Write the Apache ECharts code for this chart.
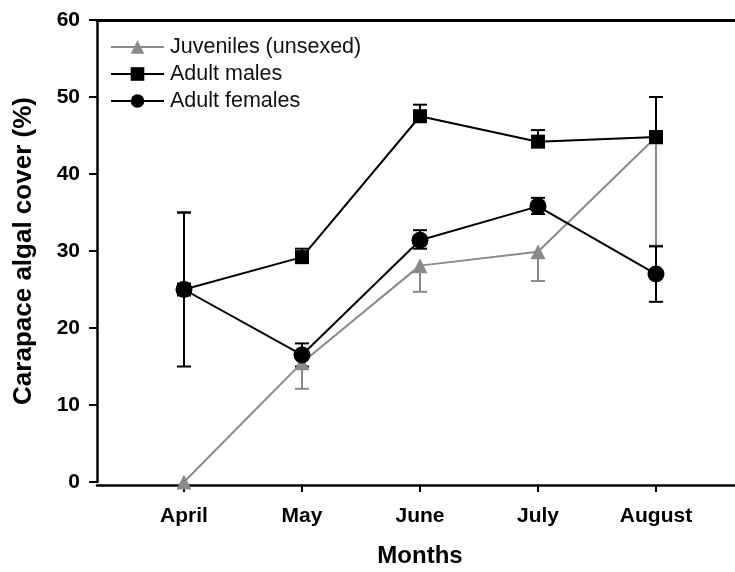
<!DOCTYPE html>
<html>
<head>
<meta charset="utf-8">
<script src="https://cdn.jsdelivr.net/npm/echarts@6/dist/echarts.min.js"></script>
<style>
  html, body { margin: 0; padding: 0; background: #fff; }
  #main { width: 735px; height: 572px; }
</style>
</head>
<body>
<div id="main"></div>
<script>
// months on the x axis (index 0..4)
var months = ['April', 'May', 'June', 'July', 'August'];
var monthIdx = [0, 1, 2, 3, 4];
var yTicks = [0, 10, 20, 30, 40, 50, 60];

// means
var juveniles = [0, 15.5, 28.1, 29.9, 44.8];
var males = [25, 29.2, 47.5, 44.2, 44.8];
var females = [25, 16.5, 31.4, 35.8, 27.0];

// error bar ends (one sided where only one side is drawn)
var juvLow = [0, 12.1, 24.7, 26.1, 30.7];
var juvHigh = [0, 15.5, 28.1, 29.9, 44.8];
var maleLow = [25, 29.2, 47.5, 44.2, 44.8];
var maleHigh = [35, 30.3, 49.0, 45.7, 50.0];
var femLow = [15, 15.0, 30.3, 34.8, 23.4];
var femHigh = [35, 18.0, 32.7, 36.9, 30.6];

var GRAY = '#8a8a8a';
var font = 'Liberation Sans, Arial, sans-serif';

function pts(vals) {
    var out = [];
    for (var i = 0; i < vals.length; i++) out.push([monthIdx[i], vals[i]]);
    return out;
}
function errData(mean, lo, hi) {
    var out = [];
    for (var i = 0; i < mean.length; i++) out.push([monthIdx[i], lo[i], hi[i], mean[i]]);
    return out;
}
function errRender(color) {
    return function(params, api) {
        var x = api.value(0), lo = api.value(1), hi = api.value(2), m = api.value(3);
        var pLo = api.coord([x, lo]);
        var pHi = api.coord([x, hi]);
        var half = 7;
        var st = { stroke: color, lineWidth: 2 };
        var kids = [{
            type: 'line',
            shape: { x1: pLo[0], y1: pLo[1], x2: pHi[0], y2: pHi[1] },
            style: st
        }];
        if (hi > m) kids.push({ type: 'line', shape: { x1: pHi[0] - half, y1: pHi[1], x2: pHi[0] + half, y2: pHi[1] }, style: st });
        if (lo < m) kids.push({ type: 'line', shape: { x1: pLo[0] - half, y1: pLo[1], x2: pLo[0] + half, y2: pLo[1] }, style: st });
        return { type: 'group', children: kids };
    };
}

var chart = echarts.init(document.getElementById('main'));
var option = {
    animation: false,
    backgroundColor: '#fff',
    grid: {
        left: 97,
        top: 20,
        right: -39,
        bottom: 90,
        outerBoundsMode: 'none'
    },
    legend: {
        orient: 'vertical',
        left: 105,
        top: 31,
        itemWidth: 53,
        itemHeight: 17,
        itemGap: 5,
        data: ['Juveniles (unsexed)', 'Adult males', 'Adult females'],
        textStyle: { fontFamily: font, fontSize: 21.5, lineHeight: 22, color: '#111', padding: [0, 0, 0, 1] }
    },
    graphic: [{
        type: 'text',
        x: 420,
        y: 556,
        style: { text: 'Months', align: 'center', verticalAlign: 'middle', fontFamily: font, fontSize: 24, fontWeight: 'bold', fill: '#000' }
    }],
    xAxis: [{
        type: 'value',
        min: -0.737,
        max: 5,
        offset: 3,
        axisLine: { onZero: false, lineStyle: { color: '#000', width: 2.5 } },
        axisTick: { show: true, length: 7, lineStyle: { color: '#000', width: 2 }, customValues: monthIdx },
        axisLabel: {
            customValues: monthIdx,
            margin: 21,
            fontFamily: font, fontSize: 21, fontWeight: 'bold', color: '#000',
            formatter: function(v) { return months[Math.round(v)]; }
        },
        splitLine: { show: false }
    }, {
        type: 'value',
        position: 'top',
        min: -0.737,
        max: 5,
        axisLine: { onZero: false, lineStyle: { color: '#000', width: 3 } },
        axisTick: { show: false },
        axisLabel: { show: false },
        splitLine: { show: false }
    }],
    yAxis: {
        type: 'value',
        min: 0,
        max: 60,
        interval: 10,
        name: 'Carapace algal cover (%)',
        nameLocation: 'middle',
        nameGap: 60,
        nameTextStyle: { fontFamily: font, fontSize: 26, fontWeight: 'bold', color: '#000' },
        axisLine: { show: true, onZero: false, lineStyle: { color: '#000', width: 2.5 } },
        axisTick: { show: true, length: 8, lineStyle: { color: '#000', width: 2 } },
        axisLabel: {
            margin: 17,
            fontFamily: font, fontSize: 21, fontWeight: 'bold', color: '#000',
            customValues: yTicks
        },
        splitLine: { show: false }
    },
    series: [{
        name: 'errJuv',
        type: 'custom',
        renderItem: errRender(GRAY),
        data: errData(juveniles, juvLow, juvHigh),
        z: 1
    }, {
        name: 'errMale',
        type: 'custom',
        renderItem: errRender('#000'),
        data: errData(males, maleLow, maleHigh),
        z: 1
    }, {
        name: 'errFem',
        type: 'custom',
        renderItem: errRender('#000'),
        data: errData(females, femLow, femHigh),
        z: 1
    }, {
        name: 'Juveniles (unsexed)',
        type: 'line',
        data: pts(juveniles),
        symbol: 'triangle',
        symbolSize: 15,
        lineStyle: { color: GRAY, width: 2 },
        itemStyle: { color: GRAY },
        z: 2
    }, {
        name: 'Adult males',
        type: 'line',
        data: pts(males),
        symbol: 'rect',
        symbolSize: 14,
        lineStyle: { color: '#000', width: 2 },
        itemStyle: { color: '#000' },
        z: 3
    }, {
        name: 'Adult females',
        type: 'line',
        data: pts(females),
        symbol: 'circle',
        symbolSize: 17,
        lineStyle: { color: '#000', width: 2 },
        itemStyle: { color: '#000' },
        z: 4
    }]
};
chart.setOption(option);
</script>
</body>
</html>
